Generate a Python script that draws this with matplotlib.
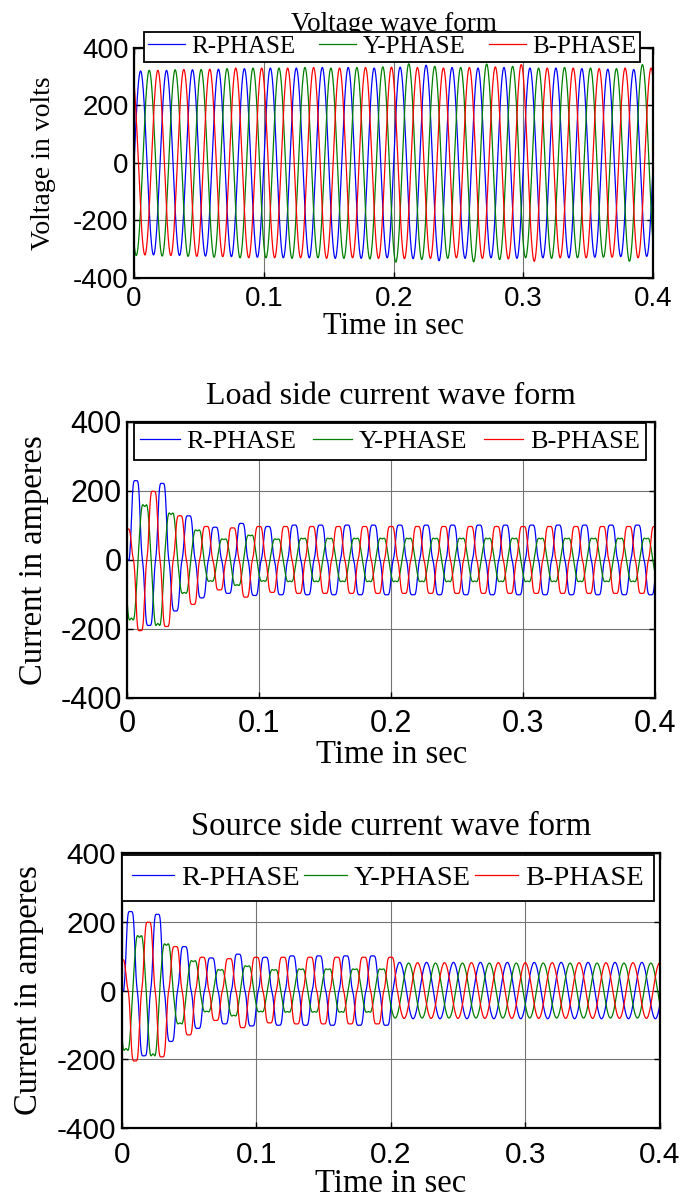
import matplotlib
matplotlib.use("Agg")
import matplotlib.pyplot as plt
import numpy as np

# --- data ------------------------------------------------------------------
FREQ = 50.0                       # Hz, 20 cycles in 0.4 s
T_END = 0.4
PHASE_NAMES = ["R-PHASE", "Y-PHASE", "B-PHASE"]
X_TICKS = [0, 0.1, 0.2, 0.3, 0.4]
X_LABELS = ["0", "0.1", "0.2", "0.3", "0.4"]
Y_TICKS = [-400, -200, 0, 200, 400]
Y_LABELS = ["-400", "-200", "0", "200", "400"]

# supply voltage, peak per cycle (V)
VOLT_R = [320, 322, 324, 326, 328, 330, 330, 332, 332, 330, 333, 340, 332, 330, 332, 330, 330, 328, 326, 325, 325]
VOLT_Y = [322, 324, 325, 328, 330, 330, 332, 330, 332, 334, 345, 336, 332, 344, 336, 330, 332, 330, 328, 342, 330]
VOLT_B = [320, 322, 325, 326, 330, 330, 330, 332, 330, 332, 333, 332, 330, 332, 334, 342, 330, 330, 328, 330, 330]
VOLT_PHASE = [0.0, -2.094, 2.094]          # rad at t = 0

# load current, peak of each half cycle (A) during the switch-on transient
LOAD_R = [0, 230, 190, 222, 148, 128, 110, 95, 97, 106, 103, 97]
LOAD_Y = [174, 160, 190, 136, 97, 87, 62, 61, 74, 72, 62, 61]
LOAD_B = [90, 205, 199, 193, 128, 129, 97, 87, 93, 108, 97, 94]
LOAD_STEADY = [101, 63, 97]
CURR_PHASE = [-0.471, -2.565, 1.623]
# waveform distortion of the load current (harmonic order: relative size)
LOAD_HARM = [{5: -0.08, 7: -0.02}, {3: 0.10, 5: -0.03}, {5: -0.08, 7: -0.02}]

# source current after the compensator comes in at 0.2 s
COMP_ON = 0.2
SOURCE_AFTER = [82, 80, 81]

W = 2 * np.pi * FREQ
t = np.linspace(0, T_END, 8001)


def half_index(phi):
    th = W * t + phi
    k = (np.floor(th / np.pi) - np.floor(phi / np.pi)).astype(int)
    return th, k


def shape(th, harm):
    s = np.sin(th)
    for n, h in harm.items():
        s = s + h * np.sin(n * th)
    g = np.linspace(0, np.pi, 2001)
    ref = np.sin(g) + sum(h * np.sin(n * g) for n, h in harm.items())
    return s / ref.max()


def voltage(peaks, phi):
    th, k = half_index(phi)
    amp = np.array(peaks)[np.minimum(k // 2, len(peaks) - 1)]
    return amp * np.sin(th)


def current(peaks, steady, phi, harm, after=None):
    th, k = half_index(phi)
    amp = np.array(list(peaks) + [steady] * 100)[k]
    y = amp * shape(th, harm)
    if after is not None:
        # centre time of each half cycle decides if compensation is on
        tc = ((k + np.floor(phi / np.pi)) * np.pi + np.pi / 2 - phi) / W
        y = np.where(tc >= COMP_ON, after * np.sin(th), y)
    return y


colors = ["#0000ff", "#008000", "#ff0000"]
serif = "Liberation Serif"
sans = "Liberation Sans"

fig = plt.figure(figsize=(6.84, 11.98), dpi=100)


def style(ax, ylabel, title, tsize, tpad, ylsize, ylpad, xlsize, tick_size, xpad,
          lsize, leg_box, bpad):
    ax.set_xlim(0, T_END)
    ax.set_ylim(-400, 400)
    ax.set_xticks(X_TICKS)
    ax.set_xticklabels(X_LABELS, family=sans, fontsize=tick_size)
    ax.set_yticks(Y_TICKS)
    ax.set_yticklabels(Y_LABELS, family=sans, fontsize=tick_size)
    ax.tick_params(direction="in", length=4, width=1, top=True, right=True)
    ax.tick_params(axis="x", pad=xpad)
    ax.tick_params(axis="y", pad=4)
    ax.grid(True, color="0.45", lw=0.8)
    for sp in ax.spines.values():
        sp.set_linewidth(1.6)
    ax.set_title(title, family=serif, fontsize=tsize, pad=tpad)
    ax.set_xlabel("Time in sec", family=serif, fontsize=xlsize, labelpad=0)
    ax.set_ylabel(ylabel, family=serif, fontsize=ylsize, labelpad=ylpad)
    # leg_box = (left, top, width) in axes fraction
    x0, top, w = leg_box
    leg = ax.legend(loc="upper left", bbox_to_anchor=(x0, top - 0.1, w, 0.1),
                    mode="expand", ncol=3,
                    prop={"family": serif, "size": lsize}, fancybox=False,
                    edgecolor="black", framealpha=1, handlelength=1.5,
                    handletextpad=0.25, borderaxespad=0, borderpad=bpad,
                    columnspacing=0.3)
    leg.get_frame().set_linewidth(1.3)
    for h in leg.get_lines():
        h.set_linewidth(0.9)


# Voltage
ax1 = fig.add_axes([0.196, 0.768, 0.759, 0.192])
for peaks, phi, c, name in zip([VOLT_R, VOLT_Y, VOLT_B], VOLT_PHASE, colors, PHASE_NAMES):
    ax1.plot(t, voltage(peaks, phi), color=c, lw=0.9, label=name)
style(ax1, "Voltage in volts", "Voltage wave form", 19.5, 12.5, 20, 12, 22, 20, 6,
      18, (0.0195, 1.07, 0.9555), 0.15)

# Load current
ax2 = fig.add_axes([0.186, 0.4174, 0.772, 0.2304])
for i, c in enumerate(colors):
    y = current([LOAD_R, LOAD_Y, LOAD_B][i], LOAD_STEADY[i], CURR_PHASE[i], LOAD_HARM[i])
    ax2.plot(t, y, color=c, lw=0.9, label=PHASE_NAMES[i])
style(ax2, "Current in amperes", "Load side current wave form", 23, 13, 23.5, 8, 23.5, 22, 8,
      19, (0.012, 0.995, 0.971), 0.25)

# Source current
ax3 = fig.add_axes([0.178, 0.0584, 0.787, 0.2295])
for i, c in enumerate(colors):
    y = current([LOAD_R, LOAD_Y, LOAD_B][i], LOAD_STEADY[i], CURR_PHASE[i], LOAD_HARM[i],
                after=SOURCE_AFTER[i])
    ax3.plot(t, y, color=c, lw=0.9, label=PHASE_NAMES[i])
style(ax3, "Current in amperes", "Source side current wave form", 23.5, 13, 23.5, 9, 23.5, 21.5, 9,
      20.5, (0.0, 0.994, 0.988), 0.35)

fig.savefig("out.png", dpi=100)
